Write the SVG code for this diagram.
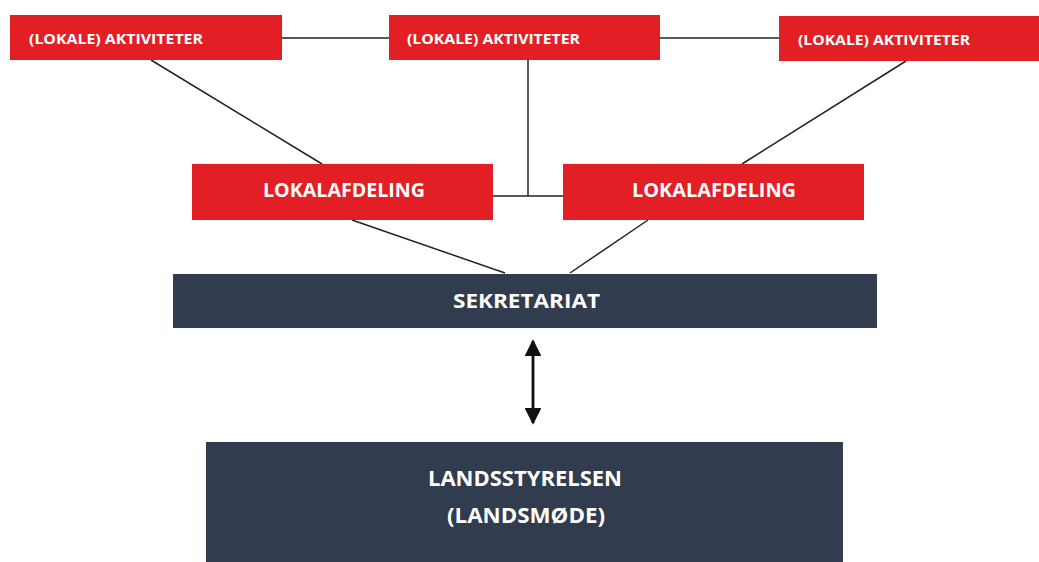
<svg xmlns="http://www.w3.org/2000/svg" width="1039" height="562" viewBox="0 0 1039 562">
<style>
.red{fill:#e31f26}
.dark{fill:#313c4e}
.t{fill:#ffffff;font-family:"Open Sans","Liberation Sans",sans-serif;font-weight:bold}
.s{font-size:15px}
.m{font-size:19px}
.l{font-size:21px}
.c{stroke:#222;stroke-width:1.5;fill:none}
</style>
<defs>
<marker id="ah" viewBox="0 0 10 10" refX="9" refY="5" markerWidth="6" markerHeight="6" orient="auto-start-reverse" markerUnits="strokeWidth">
<path d="M0,0 L10,5 L0,10 z" fill="#111"/>
</marker>
</defs>
<rect width="1039" height="562" fill="#ffffff"/>
<g id="connectors">
<line class="c" x1="282" y1="38" x2="389" y2="38"/>
<line class="c" x1="660" y1="38" x2="779" y2="38"/>
<line class="c" x1="151" y1="60" x2="322" y2="164"/>
<line class="c" x1="528" y1="60" x2="528" y2="196"/>
<line class="c" x1="906" y1="61" x2="742" y2="164"/>
<line class="c" x1="493" y1="196" x2="563" y2="196"/>
<line class="c" x1="352" y1="220" x2="505" y2="273"/>
<line class="c" x1="648" y1="220" x2="570" y2="273"/>
<line x1="533" y1="341" x2="533" y2="423" stroke="#111" stroke-width="2.8" marker-start="url(#ah)" marker-end="url(#ah)"/>
</g>
<g id="act1">
<rect class="red" x="10" y="15" width="272" height="45"/>
<text class="t s" x="29" y="44" textLength="174" lengthAdjust="spacingAndGlyphs">(LOKALE) AKTIVITETER</text>
</g>
<g id="act2">
<rect class="red" x="389" y="15" width="271" height="45"/>
<text class="t s" x="407" y="44" textLength="173" lengthAdjust="spacingAndGlyphs">(LOKALE) AKTIVITETER</text>
</g>
<g id="act3">
<rect class="red" x="779" y="16" width="260" height="45"/>
<text class="t s" x="798" y="45" textLength="172" lengthAdjust="spacingAndGlyphs">(LOKALE) AKTIVITETER</text>
</g>
<g id="lok1">
<rect class="red" x="192" y="164" width="301" height="56"/>
<text class="t m" x="263" y="197" textLength="162" lengthAdjust="spacingAndGlyphs">LOKALAFDELING</text>
</g>
<g id="lok2">
<rect class="red" x="563" y="164" width="301" height="56"/>
<text class="t m" x="632" y="197" textLength="164" lengthAdjust="spacingAndGlyphs">LOKALAFDELING</text>
</g>
<g id="sekretariat">
<rect class="dark" x="173" y="274" width="704" height="54"/>
<text class="t m" x="453" y="308" textLength="147" lengthAdjust="spacingAndGlyphs">SEKRETARIAT</text>
</g>
<g id="landsstyrelsen">
<rect class="dark" x="206" y="442" width="637" height="120"/>
<text class="t l" x="428" y="486" textLength="194" lengthAdjust="spacingAndGlyphs">LANDSSTYRELSEN</text>
<text class="t l" x="447" y="523" textLength="158" lengthAdjust="spacingAndGlyphs">(LANDSMØDE)</text>
</g>
</svg>
